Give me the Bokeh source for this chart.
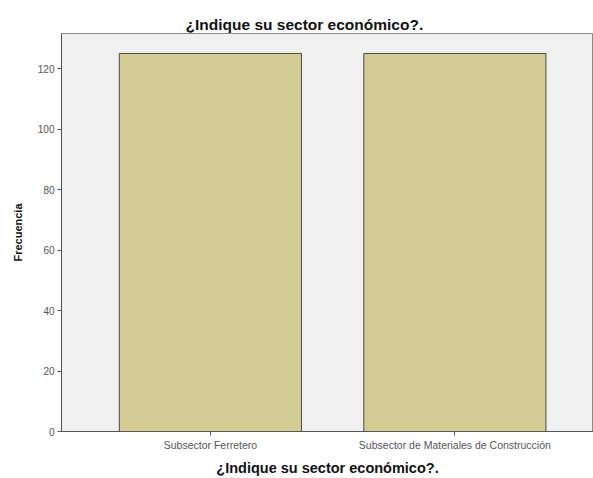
from bokeh.plotting import figure
from bokeh.models import Range1d, FixedTicker, ColumnDataSource
from bokeh.embed import file_html
from bokeh.resources import INLINE

# Data
categories = ["Subsector Ferretero", "Subsector de Materiales de Construcción"]
counts = [125, 125]
y_ticks = [0, 20, 40, 60, 80, 100, 120]
title_text = "¿Indique su sector económico?."
x_label = "¿Indique su sector económico?."
y_label = "Frecuencia"

xs = [i + 0.5 for i in range(len(categories))]
src = ColumnDataSource(dict(x=xs, top=counts, cat=categories))

p = figure(width=593, height=478, output_backend="svg", toolbar_location=None,
           x_range=Range1d(-0.109, 2.067), y_range=Range1d(0, 131.6),
           min_border_left=61, min_border_right=0, min_border_top=33, min_border_bottom=47)

p.vbar(x="x", top="top", width=0.745, source=src,
       fill_color="#d3cd95", line_color="#4b4b3c", line_width=1)

p.title.text = title_text
p.title.text_font = "Liberation Sans"
p.title.text_font_size = "15.5px"
p.title.text_font_style = "bold"
p.title.text_color = "#111111"
p.title.align = "left"
p.title.offset = 124
p.title.standoff = 2

p.background_fill_color = "#f0f0f1"
p.border_fill_color = "white"
p.outline_line_color = "#8a8a8a"
p.outline_line_width = 1
p.xgrid.visible = False
p.ygrid.visible = False

p.xaxis.ticker = FixedTicker(ticks=xs)
p.xaxis.major_label_overrides = {x: c for x, c in zip(xs, categories)}
p.yaxis.ticker = FixedTicker(ticks=y_ticks)

for ax in (p.xaxis[0], p.yaxis[0]):
    ax.axis_line_color = "#555555"
    ax.major_tick_line_color = "#555555"
    ax.major_tick_out = 4
    ax.major_tick_in = 0
    ax.minor_tick_line_color = None
    ax.major_label_text_font = "Liberation Sans"
    ax.major_label_text_color = "#555555"
    ax.major_label_standoff = 3
    ax.axis_label_text_font = "Liberation Sans"
    ax.axis_label_text_font_style = "bold"
    ax.axis_label_text_color = "#111111"

p.xaxis.major_label_text_font_size = "10.5px"
p.yaxis.major_label_text_font_size = "10px"
p.xaxis.axis_label = x_label
p.xaxis.axis_label_text_font_size = "14.5px"
p.xaxis.axis_label_standoff = 6
p.yaxis.axis_label = y_label
p.yaxis.axis_label_text_font_size = "11px"
p.yaxis.axis_label_standoff = 11

open("out.html", "w").write(file_html(p, INLINE))
